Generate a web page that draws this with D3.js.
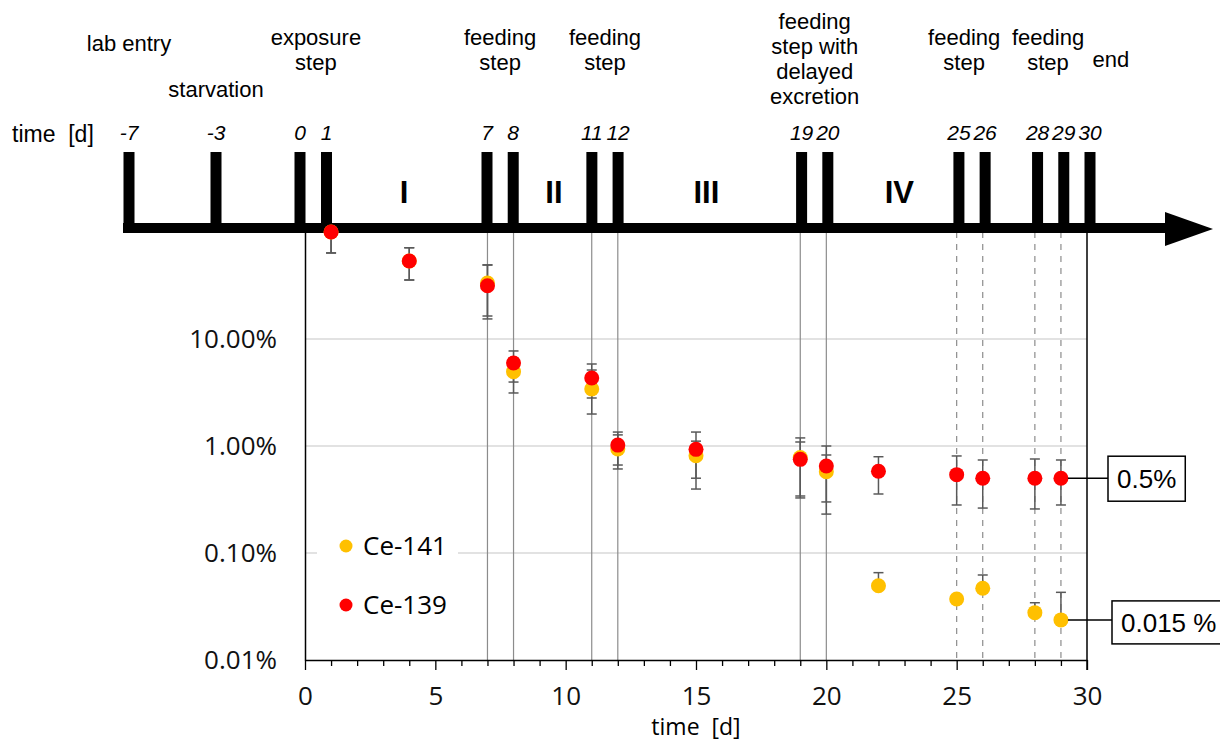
<!DOCTYPE html>
<html lang="en">
<head>
    <meta charset="UTF-8">
    <title>Ce-141 / Ce-139 retention over time</title>
    <script src="https://d3js.org/d3.v7.min.js"></script>
    <style>
        body {
            margin: 0;
            background: #fff;
        }
        svg {
            display: block;
            font-family: "Liberation Sans", Arial, sans-serif;
        }
        .axis text, .legend text, .xtitle {
            font-family: "Open Sans", sans-serif;
        }
    </style>
</head>
<body>
    <div id="chart"></div>
    <script>
        // sampling days (x) and retained activity in % (log y)
        const days = [1, 4, 7, 8, 11, 12, 15, 19, 20, 22, 25, 26, 28, 29];
        const ce139 = [100, 53.6, 31.5, 5.97, 4.32, 1.02, 0.93, 0.75, 0.65, 0.58, 0.54, 0.50, 0.50, 0.50];
        const ce139Hi = [160, 71.3, 49.2, 7.73, 5.84, 1.35, 1.35, 1.19, 1.0, 0.794, 0.807, 0.74, 0.756, 0.74];
        const ce139Lo = [63.7, 35.6, 16.4, 3.96, 2.81, 0.664, 0.50, 0.341, 0.30, 0.356, 0.281, 0.263, 0.258, 0.281];
        const ce141 = [100, 53.6, 33.4, 4.95, 3.41, 0.94, 0.81, 0.78, 0.575, 0.0494, 0.0372, 0.0468, 0.0277, 0.0237];
        const ce141Hi = [160, 71.3, 49.2, 6.64, 5.13, 1.27, 1.11, 1.09, 0.824, 0.0655, null, 0.0623, 0.0343, 0.0429];
        const ce141Lo = [63.7, 35.6, 15.4, 3.13, 1.99, 0.61, 0.396, 0.327, 0.231, null, null, null, null, null];

        const yTicks = [0.01, 0.1, 1, 10];
        const yTickLabels = ["0.01%", "0.10%", "1.00%", "10.00%"];
        const xTicks = [0, 5, 10, 15, 20, 25, 30];

        // experiment timeline
        const timelineDays = [-7, -3, 0, 1, 7, 8, 11, 12, 19, 20, 25, 26, 28, 29, 30];
        const eventTexts = [["lab entry"], ["starvation"], ["exposure", "step"], ["feeding", "step"], ["feeding", "step"],
            ["feeding", "step with", "delayed", "excretion"], ["feeding", "step"], ["feeding", "step"], ["end"]];
        const eventDays = [-7, -3, 0.6, 7.5, 11.5, 19.5, 25.2, 28.4, 30.8];
        const phases = ["I", "II", "III", "IV"];
        const phaseDays = [3.8, 9.55, 15.4, 22.8];
        const solidDays = [7, 8, 11, 12, 19, 20];
        const dashedDays = [25, 26, 28, 29];
        const callouts = ["0.5%", "0.015 %"];

        const width = 1220;
        const height = 743;
        const margin = { top: 232, right: 133, bottom: 83, left: 305 };

        const svg = d3.select("#chart")
            .append("svg")
            .attr("width", width)
            .attr("height", height);

        const x = d3.scaleLinear().domain([0, 30]).range([margin.left, width - margin.right]);
        const y = d3.scaleLog().domain([0.01, 100]).range([height - margin.bottom, margin.top]);
        // timeline above the plot is compressed before day 0
        const t = d3.scaleLinear().domain([-7, -3, 0, 1, 7, 30]).range([129, 216, 300, 326.5, 487, 1090]);

        const y0 = height - margin.bottom;
        const lineY = 228;

        // gridlines
        svg.append("g").selectAll("line")
            .data([0.1, 1, 10])
            .enter().append("line")
            .attr("x1", x(0)).attr("x2", x(30))
            .attr("y1", d => y(d)).attr("y2", d => y(d))
            .attr("stroke", "#d9d9d9").attr("stroke-width", 1.5);

        // vertical day markers
        svg.append("g").selectAll("line")
            .data(solidDays)
            .enter().append("line")
            .attr("x1", d => x(d)).attr("x2", d => x(d))
            .attr("y1", margin.top).attr("y2", y0)
            .attr("stroke", "#8c8c8c").attr("stroke-width", 1.2);

        svg.append("g").selectAll("line")
            .data(dashedDays)
            .enter().append("line")
            .attr("x1", d => x(d)).attr("x2", d => x(d))
            .attr("y1", margin.top).attr("y2", y0)
            .attr("stroke", "#8c8c8c").attr("stroke-width", 1.2)
            .attr("stroke-dasharray", "6,6");

        // legend (white box covers the gridline)
        const legend = svg.append("g").attr("class", "legend");
        legend.append("rect")
            .attr("x", x(0) + 12).attr("y", 525)
            .attr("width", 141).attr("height", 105)
            .attr("fill", "#fff");
        const legendItems = [["Ce-141", "#ffc000"], ["Ce-139", "#ff0000"]];
        legendItems.forEach((d, i) => {
            legend.append("circle")
                .attr("cx", x(0) + 41).attr("cy", 546 + i * 59)
                .attr("r", 6.5).attr("fill", d[1]);
            legend.append("text")
                .attr("x", x(0) + 58).attr("y", 555 + i * 59)
                .style("font-size", "26px")
                .text(d[0]);
        });

        // y axis
        const yAxis = svg.append("g")
            .attr("class", "axis")
            .attr("transform", `translate(${x(0)},0)`)
            .call(d3.axisLeft(y).tickValues(yTicks).tickFormat((d, i) => yTickLabels[i]).tickSize(0).tickPadding(28).tickSizeOuter(0));
        yAxis.select(".domain").attr("stroke", "#000").attr("stroke-width", 1.5);
        yAxis.selectAll("text").style("font-size", "26px").attr("fill", "#111");

        // x axis with a tick on every day
        const xAxis = svg.append("g")
            .attr("class", "axis")
            .attr("transform", `translate(0,${y0})`)
            .call(d3.axisBottom(x).tickValues(d3.range(0, 31)).tickFormat(d => xTicks.includes(d) ? d : "").tickSizeOuter(0));
        xAxis.select(".domain").attr("stroke", "#000").attr("stroke-width", 1.5);
        xAxis.selectAll(".tick line")
            .attr("stroke", "#000").attr("stroke-width", 1.3)
            .attr("y2", d => d % 5 === 0 ? 10 : 6);
        xAxis.selectAll(".tick text")
            .style("font-size", "26px").attr("fill", "#111")
            .attr("y", 27);

        svg.append("text")
            .attr("class", "xtitle")
            .attr("x", (x(0) + x(30)) / 2).attr("y", 735)
            .attr("text-anchor", "middle")
            .style("font-size", "23px")
            .style("white-space", "pre")
            .text("time  [d]");

        // right border
        svg.append("line")
            .attr("x1", x(30)).attr("x2", x(30))
            .attr("y1", margin.top).attr("y2", y0 + 10)
            .attr("stroke", "#000").attr("stroke-width", 1.5);

        // error bars (clipped to plot area)
        svg.append("clipPath").attr("id", "plotclip")
            .append("rect")
            .attr("x", 0).attr("y", margin.top)
            .attr("width", width).attr("height", y0 - margin.top);

        const series = [
            { vals: ce141, hi: ce141Hi, lo: ce141Lo, color: "#ffc000" },
            { vals: ce139, hi: ce139Hi, lo: ce139Lo, color: "#ff0000" }
        ];

        const errG = svg.append("g").attr("clip-path", "url(#plotclip)");
        series.forEach(s => {
            days.forEach((d, i) => {
                [s.hi[i], s.lo[i]].forEach(b => {
                    if (b === null) return;
                    errG.append("line")
                        .attr("x1", x(d)).attr("x2", x(d))
                        .attr("y1", y(s.vals[i])).attr("y2", y(b))
                        .attr("stroke", "#595959").attr("stroke-width", 1.5);
                    errG.append("line")
                        .attr("x1", x(d) - 5).attr("x2", x(d) + 5)
                        .attr("y1", y(b)).attr("y2", y(b))
                        .attr("stroke", "#595959").attr("stroke-width", 1.5);
                });
            });
        });

        // timeline: thick line, bars, arrowhead
        const arrowTip = width - 7;
        const arrowBase = arrowTip - 48;
        svg.append("line")
            .attr("x1", t(-7) - 6).attr("x2", arrowBase + 2)
            .attr("y1", lineY).attr("y2", lineY)
            .attr("stroke", "#000").attr("stroke-width", 10);
        svg.append("path")
            .attr("d", `M${arrowBase},${lineY - 16}L${arrowTip},${lineY + 1}L${arrowBase},${lineY + 18}Z`)
            .attr("fill", "#000");
        svg.append("g").selectAll("rect")
            .data(timelineDays)
            .enter().append("rect")
            .attr("x", d => t(d) - 5.5)
            .attr("y", 152)
            .attr("width", 11)
            .attr("height", lineY + 5 - 152)
            .attr("fill", "#000");

        svg.append("g").selectAll("text")
            .data(timelineDays)
            .enter().append("text")
            .attr("x", d => t(d))
            .attr("y", 140)
            .attr("text-anchor", "middle")
            .style("font-size", "21px")
            .style("font-style", "italic")
            .text(d => d);

        svg.append("text")
            .attr("x", 12).attr("y", 142)
            .style("font-size", "23px")
            .style("white-space", "pre")
            .text("time  [d]");

        // event labels, bottom line baselines
        const lastBaseline = [51, 97, 70, 70, 70, 104, 70, 70, 67];
        eventTexts.forEach((lines, i) => {
            const txt = svg.append("text")
                .attr("text-anchor", "middle")
                .style("font-size", "22px");
            lines.forEach((l, j) => {
                txt.append("tspan")
                    .attr("x", t(eventDays[i]))
                    .attr("y", lastBaseline[i] - (lines.length - 1 - j) * 25)
                    .text(l);
            });
        });

        svg.append("g").selectAll("text")
            .data(phases)
            .enter().append("text")
            .attr("x", (d, i) => x(phaseDays[i]))
            .attr("y", 203)
            .attr("text-anchor", "middle")
            .style("font-size", "31px")
            .style("font-weight", "bold")
            .text(d => d);

        // markers
        series.forEach(s => {
            svg.append("g").selectAll("circle")
                .data(days)
                .enter().append("circle")
                .attr("cx", d => x(d))
                .attr("cy", (d, i) => y(s.vals[i]))
                .attr("r", 7.5)
                .attr("fill", s.color);
        });

        // callouts for the final values
        const last = days.length - 1;
        [ce139[last], ce141[last]].forEach((v, i) => {
            const cy = y(v);
            const bx = x(30) + 21 + i * 4;
            const g = svg.append("g");
            g.append("line")
                .attr("x1", x(days[last]) + 7).attr("x2", bx)
                .attr("y1", cy).attr("y2", cy)
                .attr("stroke", "#000").attr("stroke-width", 1.5);
            const box = g.append("rect")
                .attr("x", bx).attr("y", cy - 22 + i * 3)
                .attr("height", 45 - i * 2)
                .attr("fill", "#fff")
                .attr("stroke", "#000").attr("stroke-width", 1.5);
            const label = g.append("text")
                .attr("x", bx + 9).attr("y", cy + 10 + i * 2)
                .style("font-size", "26px")
                .style("white-space", "pre")
                .text(callouts[i]);
            box.attr("width", label.node().getComputedTextLength() + 18);
        });
    </script>
</body>
</html>
